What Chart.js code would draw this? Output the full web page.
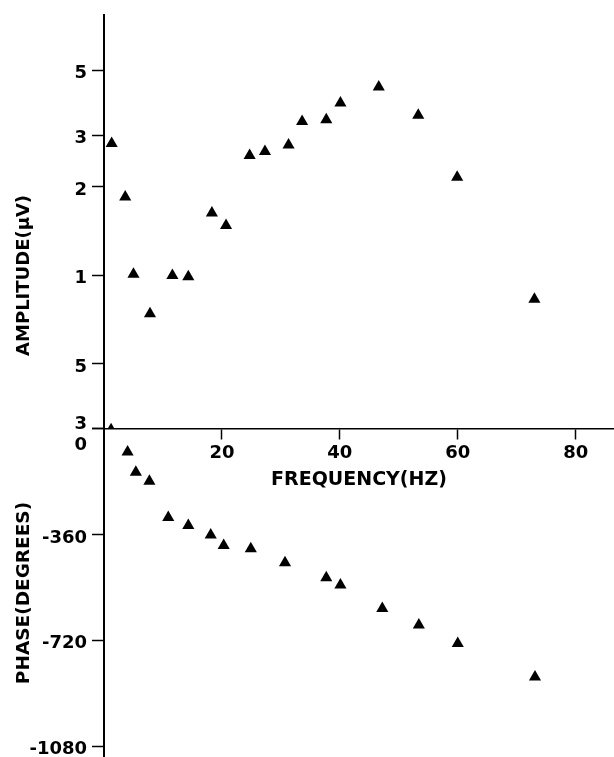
<!DOCTYPE html>
<html><head><meta charset="utf-8">
<script src="https://cdn.jsdelivr.net/npm/chart.js@4/dist/chart.umd.min.js"></script>
<style>html,body{margin:0;padding:0;background:#fff;}#wrap{width:614px;height:757px;}</style>
</head><body><div id="wrap"><canvas id="c" width="614" height="757"></canvas></div>
<script>
// ---- data ----
const ampFreq   = [1.3, 3.6, 5.0, 7.8, 11.6, 14.3, 18.3, 20.7, 24.7, 27.3, 31.3, 33.6, 37.7, 40.1, 46.6, 53.3, 59.9, 73.0];
const ampValues = [2.81, 1.85, 1.01, 0.74, 1.0, 0.99, 1.63, 1.48, 2.56, 2.64, 2.78, 3.34, 3.39, 3.86, 4.38, 3.51, 2.16, 0.83];
const phaseFreq   = [1.2, 4.0, 5.4, 7.7, 10.9, 14.3, 18.1, 20.3, 24.9, 30.7, 37.7, 40.1, 47.2, 53.4, 60.0, 73.1];
const phaseValues = [8, -78, -147, -178, -301, -328, -360, -396, -407, -455, -506, -530, -610, -666, -729, -843];
const freqTicks = [20, 40, 60, 80];
const ampTicks = [0.3, 0.5, 1, 2, 3, 5];
const ampTickLabels = ['3', '5', '1', '2', '3', '5'];
const phaseTicks = [0, -360, -720, -1080];
const phaseTickLabels = ['0', '-360', '-720', '-1080'];

const FAM = '"DejaVu Sans", sans-serif';
const tickFont = {family: FAM, size: 18, weight: 'bold'};

function zeroPad(s){ s.paddingLeft = 0; s.paddingRight = 0; s.paddingTop = 0; s.paddingBottom = 0; }

const ampTitlePlugin = {
  id: 'ampTitle',
  afterDraw(chart){
    const s = chart.scales.amp, ctx = chart.ctx;
    ctx.save();
    ctx.translate(24, s.getPixelForValue(1));
    ctx.rotate(-Math.PI/2);
    ctx.font = 'bold 18px ' + FAM;
    ctx.fillStyle = '#000';
    ctx.textAlign = 'center';
    ctx.textBaseline = 'middle';
    ctx.fillText('AMPLITUDE(\u03bcV)', 0, 0);
    ctx.restore();
  }
};

new Chart(document.getElementById('c'), {
  type: 'scatter',
  data: {
    datasets: [
      {
        label: 'Phase',
        data: phaseFreq.map((f, i) => ({x: f, y: phaseValues[i]})),
        yAxisID: 'y',
        pointStyle: 'triangle',
        pointRadius: phaseFreq.map((f, i) => i === 0 ? 4 : 7),
        backgroundColor: '#000', borderColor: '#000', borderWidth: 0,
        clip: false
      },
      {
        label: 'Amplitude',
        data: ampFreq.map((f, i) => ({x: f, y: ampValues[i]})),
        yAxisID: 'amp',
        pointStyle: 'triangle',
        pointRadius: 7,
        backgroundColor: '#000', borderColor: '#000', borderWidth: 0,
        clip: false
      }
    ]
  },
  options: {
    responsive: false, animation: false, devicePixelRatio: 1,
    layout: {autoPadding: false, padding: {top: 15, left: 0, right: 0, bottom: 0}},
    plugins: {legend: {display: false}, tooltip: {enabled: false}},
    scales: {
      x: {
        type: 'linear', min: 0, max: 86.5, bounds: 'data',
        position: {y: 0},
        grid: {drawOnChartArea: false, drawTicks: true, tickLength: 10, tickColor: '#000', tickWidth: 1.5},
        border: {display: true, color: '#000', width: 1.5},
        ticks: {color: '#000', font: tickFont, padding: 4, maxRotation: 0, autoSkip: false, callback: v => String(v)},
        afterBuildTicks: s => { s.ticks = freqTicks.map(v => ({value: v})); },
        afterFit: zeroPad,
        title: {display: true, text: 'FREQUENCY(HZ)', color: '#000',
                font: {family: FAM, size: 19, weight: 'bold'}, padding: {top: 0.5, bottom: 0}}
      },
      y: {
        type: 'linear', position: 'left', stack: 'panel', stackWeight: 328, weight: 0,
        min: -1115, max: 0, bounds: 'data',
        grid: {drawOnChartArea: false, drawTicks: true, tickLength: 12, tickColor: '#000', tickWidth: 1.5},
        border: {display: true, color: '#000', width: 2},
        ticks: {color: '#000', font: Object.assign({}, tickFont, {lineHeight: 1.5}), padding: 5, labelOffset: 3, autoSkip: false,
                callback: (v) => { const i = phaseTicks.indexOf(v); if (i < 0) return ''; return i === 0 ? ['', phaseTickLabels[i]] : phaseTickLabels[i]; }},
        afterBuildTicks: s => { s.ticks = phaseTicks.map(v => ({value: v})); },
        afterFit: s => { zeroPad(s); s.width = 104; },
        title: {display: true, text: 'PHASE(DEGREES)', color: '#000',
                font: {family: FAM, size: 18.5, weight: 'bold'}, padding: {top: 13, bottom: 0}}
      },
      amp: {
        type: 'logarithmic', position: 'left', stack: 'panel', stackWeight: 414, weight: 1,
        min: 0.3, max: 7.7, bounds: 'data',
        grid: {drawOnChartArea: false, drawTicks: true, tickLength: 12, tickColor: '#000', tickWidth: 1.5},
        border: {display: true, color: '#000', width: 2},
        ticks: {color: '#000', font: Object.assign({}, tickFont, {lineHeight: 0.88}), padding: 5, labelOffset: 3, autoSkip: false,
                callback: (v) => { const i = ampTicks.indexOf(v); if (i < 0) return ''; return i === 0 ? [ampTickLabels[i], ''] : ampTickLabels[i]; }},
        afterBuildTicks: s => { s.ticks = ampTicks.map(v => ({value: v})); },
        afterFit: s => { zeroPad(s); s.width = 104; },
        title: {display: false}
      }
    }
  },
  plugins: [ampTitlePlugin]
});
</script>
</body></html>
